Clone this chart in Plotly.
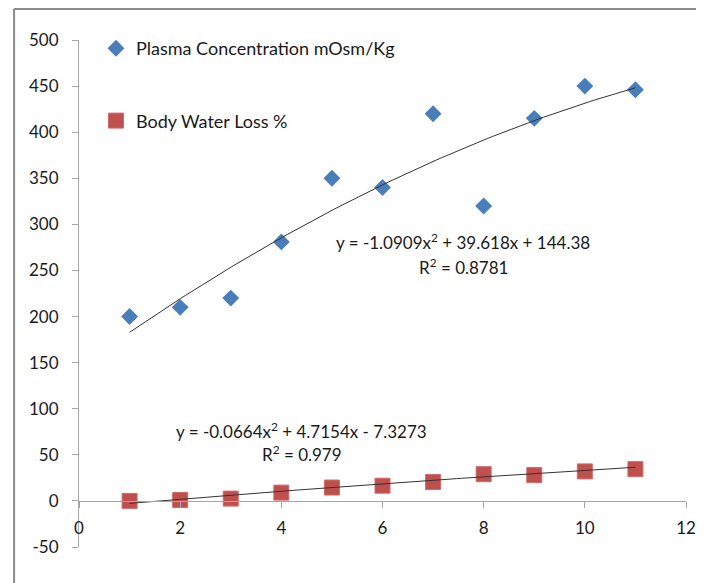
import numpy as np
import plotly.graph_objects as go

x_vals = [1, 2, 3, 4, 5, 6, 7, 8, 9, 10, 11]
plasma = [200, 210, 220, 281, 350, 340, 420, 320, 415, 450, 446]
water_loss = [0, 1, 2.5, 9, 14.5, 16.5, 20.5, 29, 28, 32, 34.5]

plasma_coef = [-1.0909, 39.618, 144.38]
water_coef = [-0.0664, 4.7154, -7.3273]
plasma_eq = "y = -1.0909x<sup>2</sup> + 39.618x + 144.38"
plasma_r2 = "R<sup>2</sup> = 0.8781"
water_eq = "y = -0.0664x<sup>2</sup> + 4.7154x - 7.3273"
water_r2 = "R<sup>2</sup> = 0.979"

x_ticks = [0, 2, 4, 6, 8, 10, 12]
y_ticks = [-50, 0, 50, 100, 150, 200, 250, 300, 350, 400, 450, 500]
y_tick_labels = ["-50", "0", "50", "100", "150", "200", "250", "300", "350", "400", "450", "500"]

FONT = "Lato"
TXT = "#1a1a1a"

xs = np.linspace(min(x_vals), max(x_vals), 100)
fig = go.Figure()
fig.add_trace(go.Scatter(
    x=x_vals, y=plasma, mode="markers", name="Plasma Concentration mOsm/Kg",
    marker=dict(symbol="diamond", size=13, color="#4a7ebb"),
    legendgroup="a"))
fig.add_trace(go.Scatter(
    x=x_vals, y=water_loss, mode="markers", name="Body Water Loss %",
    marker=dict(symbol="square", size=15, color="#c0504d",
                line=dict(color="#d06a67", width=1)),
    legendgroup="b"))
fig.add_trace(go.Scatter(
    x=xs, y=np.polyval(plasma_coef, xs), mode="lines",
    line=dict(color="#333333", width=1), showlegend=False, hoverinfo="skip"))
fig.add_trace(go.Scatter(
    x=xs, y=np.polyval(water_coef, xs), mode="lines",
    line=dict(color="#333333", width=1), showlegend=False, hoverinfo="skip"))

ymin, ymax = -50, 500
PW, PH = 617, 507
eq_font = dict(family=FONT, size=17, color=TXT)
fig.update_layout(
    width=696, height=575,
    margin=dict(l=71, r=8, t=32, b=36),
    paper_bgcolor="white", plot_bgcolor="white",
    font=dict(family=FONT, size=17, color=TXT),
    legend=dict(x=0.028, y=1 + 10 / PH, xanchor="left", yanchor="top",
                tracegroupgap=46, itemwidth=30,
                font=dict(family=FONT, size=18, color=TXT),
                bgcolor="rgba(0,0,0,0)"),
    xaxis=dict(range=[0, 12], tickvals=x_ticks, showgrid=False, zeroline=False,
               showline=True, linecolor="#a6a6a6", linewidth=1,
               ticks="outside", ticklen=6, tickcolor="#a6a6a6",
               anchor="free", position=(0 - ymin) / (ymax - ymin),
               ticklabelstandoff=6, ticklabeloverflow="allow",
               tickfont=dict(family=FONT, size=17, color=TXT)),
    yaxis=dict(range=[ymin, ymax], tickvals=y_ticks, ticktext=y_tick_labels,
               showgrid=False, zeroline=False,
               showline=True, linecolor="#a6a6a6", linewidth=1,
               ticks="outside", ticklen=6, tickcolor="#a6a6a6",
               ticklabelstandoff=10,
               tickfont=dict(family=FONT, size=17, color=TXT)),
    annotations=[
        dict(x=7.6, y=281, xref="x", yref="y", text=plasma_eq, showarrow=False, font=eq_font),
        dict(x=7.6, y=254, xref="x", yref="y", text=plasma_r2, showarrow=False, font=eq_font),
        dict(x=4.4, y=76, xref="x", yref="y", text=water_eq, showarrow=False, font=eq_font),
        dict(x=4.4, y=51, xref="x", yref="y", text=water_r2, showarrow=False, font=eq_font),
    ],
    shapes=[
        dict(type="line", xref="paper", yref="paper", x0=-66 / PW, x1=1.2,
             y0=1 + 31 / PH, y1=1 + 31 / PH, line=dict(color="#8c8c8c", width=2)),
        dict(type="line", xref="paper", yref="paper", x0=-66 / PW, x1=-66 / PW,
             y0=-0.2, y1=1 + 31 / PH, line=dict(color="#8c8c8c", width=2)),
    ],
)
fig.write_html("out.html")
